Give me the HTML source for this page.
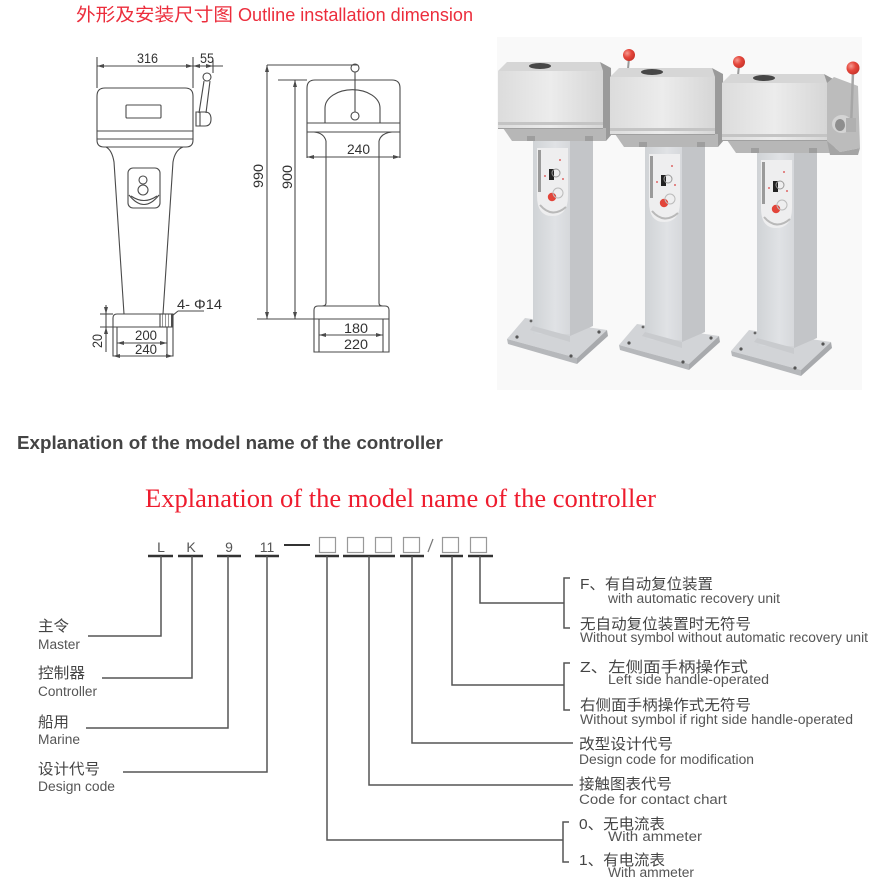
<!DOCTYPE html>
<html>
<head>
<meta charset="utf-8">
<style>
html,body{margin:0;padding:0;background:#fff;}
body{width:881px;height:894px;overflow:hidden;position:relative;}
svg{position:absolute;left:0;top:0;}
.cj{font-family:"Liberation Sans","Noto Sans CJK SC",sans-serif;}
.dim{font-family:"Liberation Sans Narrow","Liberation Sans",sans-serif;font-size:14px;fill:#333;}
</style>
</head>
<body>
<svg width="881" height="894" viewBox="0 0 881 894" xmlns="http://www.w3.org/2000/svg">
<defs>
  <linearGradient id="hf" x1="0" y1="0" x2="1" y2="0">
    <stop offset="0" stop-color="#dcdcdc"/>
    <stop offset="0.5" stop-color="#ececec"/>
    <stop offset="1" stop-color="#d6d6d6"/>
  </linearGradient>
  <linearGradient id="cf" x1="0" y1="0" x2="1" y2="0">
    <stop offset="0" stop-color="#d0d3d6"/>
    <stop offset="0.6" stop-color="#e0e2e5"/>
    <stop offset="1" stop-color="#d6d8db"/>
  </linearGradient>
  <radialGradient id="ball" cx="0.35" cy="0.35" r="0.7">
    <stop offset="0" stop-color="#f59a90"/>
    <stop offset="0.5" stop-color="#e5473c"/>
    <stop offset="1" stop-color="#c8332a"/>
  </radialGradient>
  <pattern id="hatch" width="3" height="3" patternUnits="userSpaceOnUse">
    <line x1="0" y1="0" x2="0" y2="3" stroke="#555" stroke-width="1.2"/>
  </pattern>
  <g id="ped">
    <!-- base -->
    <polygon points="525,318 607,330 577,358 507,339" fill="#d2d4d7"/>
    <polygon points="507,339 577,358 577,364 508,344" fill="#b6b8bb"/>
    <polygon points="577,358 607,330 608,336 577,364" fill="#a8aaad"/>
    <circle cx="517" cy="337" r="1.6" fill="#555"/>
    <circle cx="571" cy="356" r="1.6" fill="#555"/>
    <circle cx="599" cy="332" r="1.6" fill="#555"/>
    <circle cx="531" cy="321" r="1.4" fill="#666"/>
    <!-- column -->
    <rect x="533" y="138" width="37" height="196" fill="url(#cf)"/>
    <polygon points="570,138 593,138 593,326 570,336" fill="#c3c5c8"/>
    <polygon points="533,326 570,336 570,342 530,330" fill="#c9cbce"/>
    <!-- panel -->
    <path d="M537,148 h31 v48 q0,20 -16,20 q-15,0 -15,-20 z" fill="#eeeeef"/>
    <path d="M540,205 q12,14 26,2" stroke="#b9b9b9" stroke-width="2" fill="none"/>
    <rect x="538" y="150" width="3" height="42" fill="#9a9a9a"/>
    <rect x="549" y="169" width="5" height="11" fill="#222"/>
    <circle cx="556" cy="173" r="4" fill="none" stroke="#999" stroke-width="1"/>
    <circle cx="552" cy="197" r="4.2" fill="#e2453a"/>
    <circle cx="558" cy="193" r="5" fill="none" stroke="#bbb" stroke-width="1"/>
    <circle cx="560" cy="160" r="1" fill="#d66"/>
    <circle cx="545" cy="176" r="1" fill="#d66"/>
    <circle cx="563" cy="179" r="1" fill="#d66"/>
    <!-- head -->
    <polygon points="503,128 606,128 606,141 512,141" fill="#b7b7b7"/>
    <rect x="527" y="136" width="8" height="5" fill="#9e9e9e"/>
    <rect x="585" y="136" width="8" height="5" fill="#9e9e9e"/>
    <rect x="498" y="71" width="105" height="58" fill="url(#hf)"/>
    <rect x="498" y="122" width="105" height="3" fill="#c4c4c4"/>
    <line x1="498" y1="128.5" x2="603" y2="128.5" stroke="#a0a0a0" stroke-width="1"/>
    <polygon points="498,71 507,62 600,62 603,71" fill="#d6d6d6"/>
    <ellipse cx="540" cy="66" rx="11" ry="3" fill="#474747"/>
    <polygon points="603,71 600,62 611,68 612,134 606,141 606,128 603,128" fill="#9a9a9a"/>
  </g>
</defs>

<!-- ================= TOP TITLE ================= -->
<text class="cj" x="76" y="21" font-size="18" fill="#ec2d3c" textLength="157" lengthAdjust="spacingAndGlyphs">外形及安装尺寸图</text>
<text x="238" y="21" font-family="Liberation Sans, sans-serif" font-size="18" fill="#ec2d3c" textLength="235" lengthAdjust="spacingAndGlyphs">Outline installation dimension</text>

<!-- ================= TECHNICAL DRAWING ================= -->
<g stroke="#4a4a4a" stroke-width="1.1" fill="none">
  <!-- 316 / 55 dimension -->
  <line x1="97" y1="57" x2="97" y2="88"/>
  <line x1="193" y1="57" x2="193" y2="88"/>
  <line x1="97" y1="66" x2="223" y2="66"/>
  <line x1="213" y1="60" x2="213" y2="73"/>
  <!-- head -->
  <path d="M97,96 Q97,88 105,88 H185 Q193,88 193,96 V140 Q193,147 186,147 H104 Q97,147 97,140 Z"/>
  <line x1="97" y1="131" x2="193" y2="131"/>
  <line x1="97" y1="139" x2="193" y2="139"/>
  <rect x="126" y="105" width="35" height="13" rx="1"/>
  <!-- handle -->
  <circle cx="207" cy="77" r="4"/>
  <line x1="204" y1="81" x2="199" y2="113"/>
  <line x1="210" y1="81" x2="206" y2="113"/>
  <path d="M196,112 H205 Q211,112 211,119 Q211,126 205,126 H196 Z"/>
  <line x1="200" y1="112" x2="200" y2="126"/>
  <!-- column -->
  <path d="M106,147 Q112,150 114,162 L124,314"/>
  <path d="M183,147 Q175,150 173,162 L163,314"/>
  <!-- emblem -->
  <rect x="128" y="168" width="32" height="40" rx="5"/>
  <circle cx="143" cy="180" r="4"/>
  <circle cx="143" cy="190" r="5"/>
  <path d="M129,195 Q144,214 159,195"/>
  <path d="M131,196 Q144,205 157,196"/>
  <!-- base -->
  <path d="M113,356 V318 Q113,314 117,314 H173 V356 Z"/>
  <rect x="160" y="314" width="12" height="13" fill="url(#hatch)"/>
  <line x1="100" y1="314" x2="113" y2="314"/>
  <line x1="100" y1="327" x2="173" y2="327"/>
  <line x1="106" y1="305" x2="106" y2="352"/>
  <line x1="117" y1="327" x2="117" y2="356"/>
  <line x1="167" y1="327" x2="167" y2="356"/>
  <line x1="117" y1="343" x2="167" y2="343"/>
  <line x1="172" y1="316" x2="178" y2="311"/>
  <line x1="178" y1="311" x2="204" y2="311"/>

  <!-- side view -->
  <line x1="267" y1="65" x2="358" y2="65"/>
  <line x1="267" y1="65" x2="267" y2="319"/>
  <line x1="278" y1="80" x2="307" y2="80"/>
  <line x1="295" y1="80" x2="295" y2="319"/>
  <path d="M307,158 V88 Q307,80 315,80 H392 Q400,80 400,88 V158"/>
  <line x1="307" y1="123" x2="400" y2="123"/>
  <line x1="307" y1="132" x2="400" y2="132"/>
  <path d="M314,132 Q324,133 326,141"/>
  <path d="M392,132 Q381,133 379,141"/>
  <line x1="307" y1="157" x2="400" y2="157"/>
  <path d="M325,123 V108 A27,18 0 0 1 380,108 V123"/>
  <circle cx="355" cy="68" r="4"/>
  <line x1="355" y1="72" x2="355" y2="112"/>
  <circle cx="355" cy="116" r="4"/>
  <line x1="326" y1="141" x2="326" y2="303"/>
  <line x1="379" y1="141" x2="379" y2="303"/>
  <path d="M326,303 Q326,306 322,306"/>
  <path d="M379,303 Q379,306 383,306"/>
  <path d="M314,352 V310 Q314,306 318,306 H385 Q389,306 389,310 V352 Z"/>
  <line x1="257" y1="319" x2="389" y2="319"/>
  <line x1="319" y1="319" x2="319" y2="352"/>
  <line x1="383" y1="319" x2="383" y2="352"/>
  <line x1="319" y1="335" x2="383" y2="335"/>
</g>
<!-- arrowheads -->
<g fill="#4a4a4a">
  <polygon points="97,66 104,64 104,68"/>
  <polygon points="193,66 186,64 186,68"/>
  <polygon points="193,66 200,64 200,68"/>
  <polygon points="213,66 206,64 206,68"/>
  <polygon points="307,157 314,155 314,159"/>
  <polygon points="400,157 393,155 393,159"/>
  <polygon points="319,335 326,333 326,337"/>
  <polygon points="383,335 376,333 376,337"/>
  <polygon points="117,343 124,341 124,345"/>
  <polygon points="167,343 160,341 160,345"/>
  <polygon points="113,356 120,354 120,358"/>
  <polygon points="173,356 166,354 166,358"/>
  <polygon points="267,65 265,72 269,72"/>
  <polygon points="267,319 265,312 269,312"/>
  <polygon points="295,80 293,87 297,87"/>
  <polygon points="295,319 293,312 297,312"/>
  <polygon points="106,314 104,307 108,307"/>
  <polygon points="106,327 104,334 108,334"/>
</g>
<g class="dim">
  <text x="137" y="63" textLength="21" lengthAdjust="spacingAndGlyphs">316</text>
  <text x="200" y="63" textLength="14" lengthAdjust="spacingAndGlyphs">55</text>
  <text x="347" y="154" textLength="23" lengthAdjust="spacingAndGlyphs">240</text>
  <text x="135" y="340" textLength="22" lengthAdjust="spacingAndGlyphs">200</text>
  <text x="135" y="354" textLength="22" lengthAdjust="spacingAndGlyphs">240</text>
  <text x="344" y="333" textLength="24" lengthAdjust="spacingAndGlyphs">180</text>
  <text x="344" y="349" textLength="24" lengthAdjust="spacingAndGlyphs">220</text>
  <text x="177" y="309" textLength="45" lengthAdjust="spacingAndGlyphs">4- Φ14</text>
  <text transform="translate(102,348) rotate(-90)" textLength="14" lengthAdjust="spacingAndGlyphs">20</text>
  <text transform="translate(263,188) rotate(-90)" textLength="24" lengthAdjust="spacingAndGlyphs">990</text>
  <text transform="translate(292,189) rotate(-90)" textLength="24" lengthAdjust="spacingAndGlyphs">900</text>
</g>

<!-- ================= PHOTO ================= -->
<rect x="497" y="37" width="365" height="353" fill="#f9f9f9"/>
<!-- handle P1 -->
<line x1="629" y1="58" x2="627" y2="80" stroke="#9a9a9a" stroke-width="2"/>
<circle cx="629" cy="55" r="6" fill="url(#ball)"/>
<use href="#ped"/>
<!-- handle P2 -->
<line x1="739" y1="65" x2="737" y2="86" stroke="#9a9a9a" stroke-width="2"/>
<circle cx="739" cy="62" r="6" fill="url(#ball)"/>
<use href="#ped" transform="translate(112,6)"/>
<g transform="translate(224,12)"><use href="#ped"/></g>
<!-- P3 right side -->
<polygon points="827,83 834,77 858,86 860,148 840,152 827,141" fill="#bcbcbc"/>
<polygon points="827,141 840,152 860,148 858,155 830,155" fill="#a5a5a5"/>
<ellipse cx="842" cy="124" rx="10" ry="9" fill="#d4d4d4"/>
<ellipse cx="840" cy="125" rx="5" ry="6" fill="#8e8e8e"/>
<line x1="853" y1="72" x2="851" y2="128" stroke="#a6a6a6" stroke-width="2.5"/>
<rect x="846" y="118" width="10" height="14" fill="#b0b0b0"/>
<circle cx="853" cy="68" r="6.5" fill="url(#ball)"/>

<!-- ================= HEADINGS ================= -->
<text x="17" y="449" font-family="Liberation Sans, sans-serif" font-weight="bold" font-size="18" fill="#444" textLength="426" lengthAdjust="spacingAndGlyphs">Explanation of the model name of the controller</text>
<text x="145" y="507" font-family="Liberation Serif, serif" font-size="26.5" fill="#ee1c2e" textLength="511" lengthAdjust="spacingAndGlyphs">Explanation of the model name of the controller</text>

<!-- ================= MODEL CODE DIAGRAM ================= -->
<g font-family="Liberation Sans, sans-serif" font-size="14" fill="#555" text-anchor="middle">
  <text x="161" y="552">L</text>
  <text x="191" y="552">K</text>
  <text x="229" y="552">9</text>
  <text x="267" y="552">11</text>
</g>
<line x1="284" y1="545" x2="310" y2="545" stroke="#333" stroke-width="2"/>
<g stroke="#999" stroke-width="1.2" fill="none">
  <rect x="319.5" y="537.5" width="16" height="15"/>
  <rect x="347.5" y="537.5" width="16" height="15"/>
  <rect x="375.5" y="537.5" width="16" height="15"/>
  <rect x="403.5" y="537.5" width="16" height="15"/>
  <rect x="442.5" y="537.5" width="16" height="15"/>
  <rect x="470.5" y="537.5" width="16" height="15"/>
  <line x1="433" y1="539" x2="428" y2="552" stroke="#777"/>
</g>
<g stroke="#333" stroke-width="2.5">
  <line x1="148" y1="556" x2="173" y2="556"/>
  <line x1="178" y1="556" x2="203" y2="556"/>
  <line x1="217" y1="556" x2="241" y2="556"/>
  <line x1="255" y1="556" x2="279" y2="556"/>
  <line x1="315" y1="556" x2="339" y2="556"/>
  <line x1="343" y1="556" x2="395" y2="556"/>
  <line x1="400" y1="556" x2="424" y2="556"/>
  <line x1="440" y1="556" x2="463" y2="556"/>
  <line x1="468" y1="556" x2="493" y2="556"/>
</g>
<g stroke="#555" stroke-width="1.5" fill="none">
  <path d="M161,556 V636 H88"/>
  <path d="M192,556 V678 H102"/>
  <path d="M228,556 V728 H86"/>
  <path d="M267,556 V772 H123"/>
  <path d="M327,556 V840 H563"/>
  <path d="M369,556 V785 H573"/>
  <path d="M412,556 V743 H573"/>
  <path d="M452,556 V685 H564"/>
  <path d="M480,556 V603 H564"/>
  <path d="M570,578 H564 V628 H570"/>
  <path d="M570,663 H564 V710 H570"/>
  <path d="M569,822 H563 V862 H569"/>
</g>

<!-- left labels -->
<g class="cj" font-size="15" fill="#444">
  <text x="38" y="631" textLength="31" lengthAdjust="spacingAndGlyphs">主令</text>
  <text x="38" y="678" textLength="47" lengthAdjust="spacingAndGlyphs">控制器</text>
  <text x="38" y="727" textLength="31" lengthAdjust="spacingAndGlyphs">船用</text>
  <text x="38" y="774" textLength="62" lengthAdjust="spacingAndGlyphs">设计代号</text>
</g>
<g font-family="Liberation Sans, sans-serif" font-size="13.5" fill="#555">
  <text x="38" y="649" textLength="42" lengthAdjust="spacingAndGlyphs">Master</text>
  <text x="38" y="696" textLength="59" lengthAdjust="spacingAndGlyphs">Controller</text>
  <text x="38" y="744" textLength="42" lengthAdjust="spacingAndGlyphs">Marine</text>
  <text x="38" y="791" textLength="77" lengthAdjust="spacingAndGlyphs">Design code</text>
</g>

<!-- right labels -->
<g class="cj" font-size="15" fill="#444">
  <text x="580" y="589" textLength="133" lengthAdjust="spacingAndGlyphs">F、有自动复位装置</text>
  <text x="580" y="629" textLength="171" lengthAdjust="spacingAndGlyphs">无自动复位装置时无符号</text>
  <text x="580" y="672" textLength="168" lengthAdjust="spacingAndGlyphs">Z、左侧面手柄操作式</text>
  <text x="580" y="710" textLength="171" lengthAdjust="spacingAndGlyphs">右侧面手柄操作式无符号</text>
  <text x="579" y="749" textLength="94" lengthAdjust="spacingAndGlyphs">改型设计代号</text>
  <text x="579" y="789" textLength="93" lengthAdjust="spacingAndGlyphs">接触图表代号</text>
  <text x="579" y="829" textLength="86" lengthAdjust="spacingAndGlyphs">0、无电流表</text>
  <text x="579" y="865" textLength="86" lengthAdjust="spacingAndGlyphs">1、有电流表</text>
</g>
<g font-family="Liberation Sans, sans-serif" font-size="13.5" fill="#555">
  <text x="608" y="603" textLength="172" lengthAdjust="spacingAndGlyphs">with automatic recovery unit</text>
  <text x="580" y="642" textLength="288" lengthAdjust="spacingAndGlyphs">Without symbol without automatic recovery unit</text>
  <text x="608" y="684" textLength="161" lengthAdjust="spacingAndGlyphs">Left side handle-operated</text>
  <text x="580" y="724" textLength="273" lengthAdjust="spacingAndGlyphs">Without symbol if right side handle-operated</text>
  <text x="579" y="764" textLength="175" lengthAdjust="spacingAndGlyphs">Design code for modification</text>
  <text x="579" y="804" textLength="148" lengthAdjust="spacingAndGlyphs">Code for contact chart</text>
  <text x="608" y="841" textLength="94" lengthAdjust="spacingAndGlyphs">With ammeter</text>
  <text x="608" y="877" textLength="86" lengthAdjust="spacingAndGlyphs">With ammeter</text>
</g>
</svg>
</body>
</html>
